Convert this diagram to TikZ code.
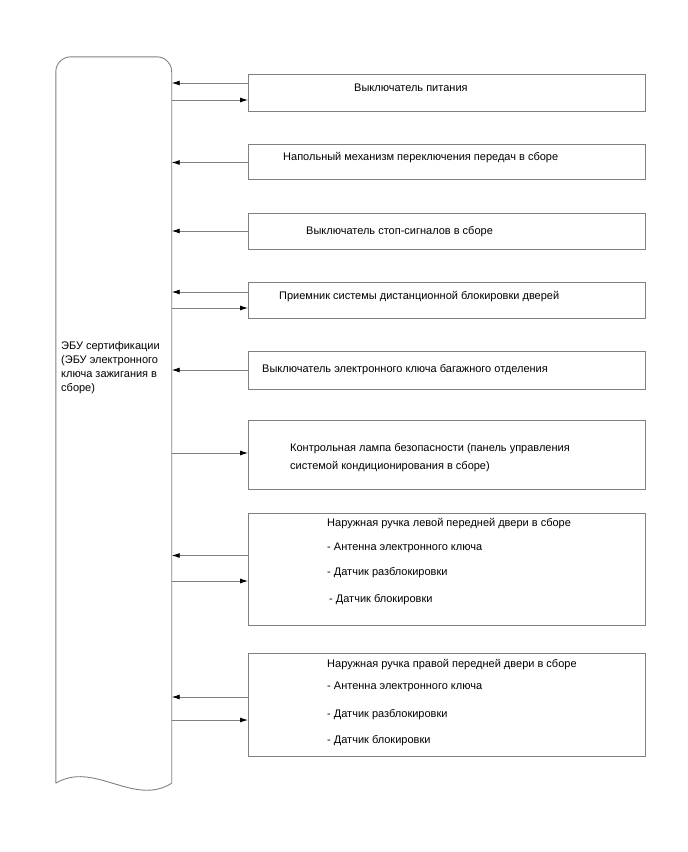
\documentclass[tikz,border=0pt]{standalone}
\usepackage{fontspec}
\setmainfont{Liberation Sans}
\usepackage{tikz}
\usetikzlibrary{arrows.meta}
\tikzset{
    frame/.style={draw=gray,line width=0.9pt},
    unit/.style={frame,minimum width=397pt,inner sep=0pt},
    lbl/.style={anchor=west,inner sep=0pt,align=left,font=\fontsize{11}{13.8}\selectfont},
    sig/.style={draw=gray,line width=0.9pt,-{Latex[length=8pt,width=5pt,black]}}
}

\begin{document}
\begin{tikzpicture}[x=1pt,y=-1pt]
    \useasboundingbox (0,0) rectangle (688,852);
    \node[minimum width=115.5pt,minimum height=726pt,inner sep=0pt] (ecu) at (113.75,420) {};
    \draw[frame,rounded corners=15pt] (ecu.south west) -- (ecu.north west) -- (ecu.north east) -- (ecu.south east);
    \draw[frame] (ecu.south east) .. controls +(-38,24) and +(38,-23) .. (ecu.south west);
    \node[lbl] (ecutxt) at (61,367.5) {ЭБУ сертификации\\(ЭБУ электронного\\ключа зажигания в\\сборе)};
    \foreach\n/\cy/\h in{1/92.5/37,2/161.5/35,3/231/36,4/300/36,5/370/38,6/454.5/69,7/569/112,8/704.5/103}{
        \node[unit,minimum height=\h pt] (b\n) at (447,\cy) {};
    }
    \node[lbl] (t1) at (354,88) {Выключатель питания};
    \node[lbl] (t2) at (283,158) {Напольный механизм переключения передач в сборе};
    \node[lbl] (t3) at (306,232) {Выключатель стоп-сигналов в сборе};
    \node[lbl] (t4) at (279,297) {Приемник системы дистанционной блокировки дверей};
    \node[lbl] (t5) at (262,370) {Выключатель электронного ключа багажного отделения};
    \node[lbl,font=\fontsize{11}{18}\selectfont] (t6) at (290,458) {Контрольная лампа безопасности (панель управления\\системой кондиционирования в сборе)};
    \node[lbl] (t7) at (327,524) {Наружная ручка левой передней двери в сборе};
    \node[lbl] (t7a) at (327,548) {- Антенна электронного ключа};
    \node[lbl] (t7b) at (327,573) {- Датчик разблокировки};
    \node[lbl] (t7c) at (329,600) {- Датчик блокировки};
    \node[lbl] (t8) at (327,665) {Наружная ручка правой передней двери в сборе};
    \node[lbl] (t8a) at (327,687) {- Антенна электронного ключа};
    \node[lbl] (t8b) at (327,715) {- Датчик разблокировки};
    \node[lbl] (t8c) at (327,741) {- Датчик блокировки};
    \foreach\n/\dy in{1/9.5,2/-1,3/0,4/8,5/0,7/13.5,8/7.5}{
        \draw[sig] ([yshift=\dy pt]b\n.west) -- ([yshift=\dy pt]b\n.west -| ecu.east);
    }
    \foreach\n/\dy in{1/-7.5,4/-8,6/1.5,7/-12,8/-15.5}{
        \draw[sig] ([yshift=\dy pt]b\n.west -| ecu.east) -- ([yshift=\dy pt]b\n.west);
    }
\end{tikzpicture}
\end{document}
